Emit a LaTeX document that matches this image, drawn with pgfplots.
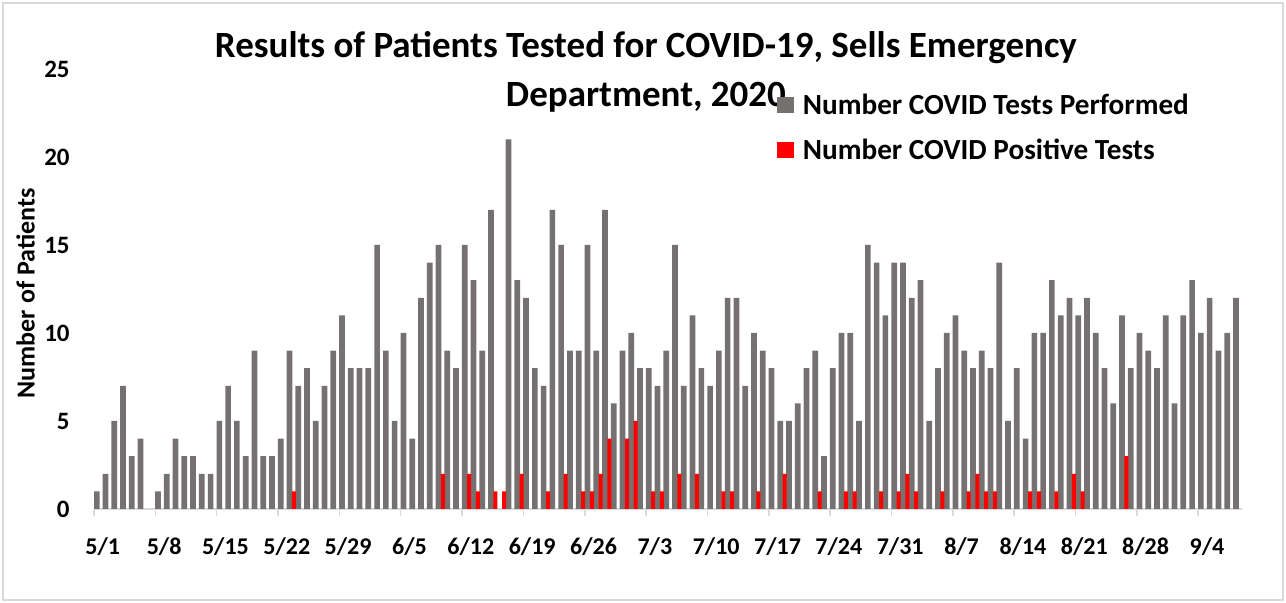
\documentclass[border=0pt]{standalone}
\usepackage{fontspec}
\setmainfont{Carlito}
\usepackage{pgfplots}
\pgfplotsset{compat=1.18}
\usepackage{pgfplotstable}
\definecolor{barg}{HTML}{767171}
\definecolor{axg}{HTML}{D9D9D9}

\pgfplotstableread{
x t p
0 1 0
1 2 0
2 5 0
3 7 0
4 3 0
5 4 0
6 0 0
7 1 0
8 2 0
9 4 0
10 3 0
11 3 0
12 2 0
13 2 0
14 5 0
15 7 0
16 5 0
17 3 0
18 9 0
19 3 0
20 3 0
21 4 0
22 9 1
23 7 0
24 8 0
25 5 0
26 7 0
27 9 0
28 11 0
29 8 0
30 8 0
31 8 0
32 15 0
33 9 0
34 5 0
35 10 0
36 4 0
37 12 0
38 14 0
39 15 2
40 9 0
41 8 0
42 15 2
43 13 1
44 9 0
45 17 1
46 0 1
47 21 0
48 13 2
49 12 0
50 8 0
51 7 1
52 17 0
53 15 2
54 9 0
55 9 1
56 15 1
57 9 2
58 17 4
59 6 0
60 9 4
61 10 5
62 8 0
63 8 1
64 7 1
65 9 0
66 15 2
67 7 0
68 11 2
69 8 0
70 7 0
71 9 1
72 12 1
73 12 0
74 7 0
75 10 1
76 9 0
77 8 0
78 5 2
79 5 0
80 6 0
81 8 0
82 9 1
83 3 0
84 8 0
85 10 1
86 10 1
87 5 0
88 15 0
89 14 1
90 11 0
91 14 1
92 14 2
93 12 1
94 13 0
95 5 0
96 8 1
97 10 0
98 11 0
99 9 1
100 8 2
101 9 1
102 8 1
103 14 0
104 5 0
105 8 0
106 4 1
107 10 1
108 10 0
109 13 1
110 11 0
111 12 2
112 11 1
113 12 0
114 10 0
115 8 0
116 6 0
117 11 3
118 8 0
119 10 0
120 9 0
121 8 0
122 11 0
123 6 0
124 11 0
125 13 0
126 10 0
127 12 0
128 9 0
129 10 0
130 12 0
}\data

\begin{document}
\begin{tikzpicture}[font=\bfseries]
\useasboundingbox (0,0) rectangle (643pt,301.5pt);
\draw[axg, line width=0.75pt] (1.5pt,1.5pt) rectangle (641.5pt,300pt);
\node[anchor=base, inner sep=0pt, font=\bfseries\fontsize{18.5}{22}\selectfont] at (323pt,272.5pt) {Results of Patients Tested for COVID-19, Sells Emergency};
\node[anchor=base, inner sep=0pt, font=\bfseries\fontsize{18.5}{22}\selectfont] at (323pt,248pt) {Department, 2020};
\begin{axis}[
  at={(47pt,47pt)}, anchor=south west,
  scale only axis, width=574pt, height=220pt,
  xmin=-0.5, xmax=130.5, ymin=0, ymax=25,
  axis x line*=bottom, axis y line*=left,
  y axis line style={draw=none},
  x axis line style={axg, line width=0.75pt, -},
  ytick={0,5,10,15,20,25},
  ytick style={draw=none},
  xtick={-0.5,6.5,13.5,20.5,27.5,34.5,41.5,48.5,55.5,62.5,69.5,76.5,83.5,90.5,97.5,104.5,111.5,118.5,125.5},
  xticklabels={5/1,5/8,5/15,5/22,5/29,6/5,6/12,6/19,6/26,7/3,7/10,7/17,7/24,7/31,8/7,8/14,8/21,8/28,9/4},
  tick align=outside,
  major tick length=3.5pt,
  xtick style={axg, line width=0.75pt},
  xticklabel style={anchor=base, inner sep=0pt, xshift=4.38pt, yshift=-19.5pt, font=\bfseries\fontsize{12}{14}\selectfont},
  yticklabel style={anchor=east, inner sep=0pt, xshift=-8.5pt, font=\bfseries\fontsize{12.5}{14}\selectfont},
  /pgf/number format/assume math mode=true,
  ylabel={Number of Patients},
  ylabel style={at={(axis description cs:-0.0597,0.49)}, anchor=center, font=\bfseries\fontsize{13}{15}\selectfont},
  legend style={draw=none, fill=none, at={(rel axis cs:0.595,0.9407)}, anchor=north west, inner sep=0pt, row sep=13.1pt, column sep=4.5pt, font=\bfseries\fontsize{14.6}{17}\selectfont, nodes={inner sep=0pt, anchor=west, text height=9.4pt, text depth=0pt}},
  legend cell align=left,
]
\addplot[ybar, fill=barg, draw=none, bar width=2.85pt, bar shift=-0.85pt,
  y filter/.expression={y==0 ? nan : y},
  legend image code/.code={\fill[barg] (0pt,-4.1pt) rectangle (8.25pt,4.1pt);}] table[x=x, y=t] {\data};
\addlegendentry{Number COVID Tests Performed}
\addplot[ybar, fill=red, draw=none, bar width=2pt, bar shift=1.35pt,
  y filter/.expression={y==0 ? nan : y},
  legend image code/.code={\fill[red] (0pt,-4.1pt) rectangle (8.25pt,4.1pt);}] table[x=x, y=p] {\data};
\addlegendentry{Number COVID Positive Tests}
\end{axis}
\end{tikzpicture}
\end{document}
